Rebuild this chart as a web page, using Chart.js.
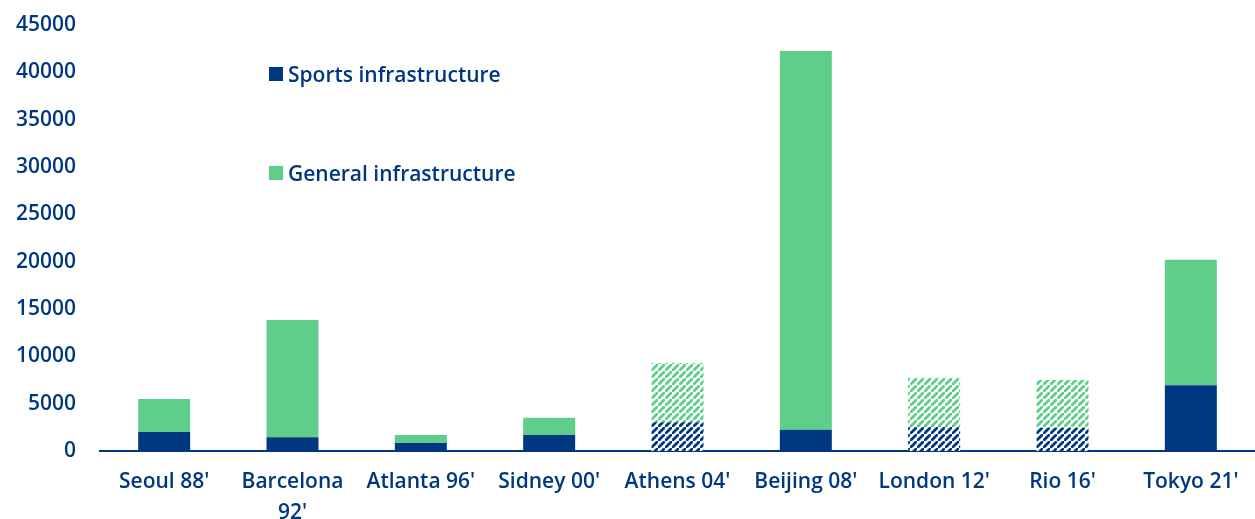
<!DOCTYPE html>
<html>
<head>
<meta charset="utf-8">
<script src="https://cdn.jsdelivr.net/npm/chart.js@4"></script>
<style>
  body { margin: 0; background: #fff; }
  #wrap { position: relative; width: 1255px; height: 519px; overflow: hidden; }
  .leg { position: absolute; left: 269px; font: 600 21px "Open Sans", sans-serif; color: #003781; display: flex; align-items: center; white-space: nowrap; }
  .leg span { display: inline-block; width: 14px; height: 14px; margin-right: 5px; }
</style>
</head>
<body>
<div id="wrap">
  <canvas id="myChart" width="1255" height="519"></canvas>
  <div class="leg" style="top:60px"><span style="background:#003781"></span>Sports infrastructure</div>
  <div class="leg" style="top:159px"><span style="background:#5ECE8A"></span>General infrastructure</div>
</div>
<script>
const labels = ["Seoul 88'", ["Barcelona", "92'"], "Atlanta 96'", "Sidney 00'", "Athens 04'", "Beijing 08'", "London 12'", "Rio 16'", "Tokyo 21'"];
const sportsVals = [2000, 1450, 850, 1700, 3050, 2250, 2600, 2450, 6950];
const generalVals = [3500, 12400, 850, 1800, 6250, 40000, 5150, 5050, 13250];
const hatched = [false, false, false, false, true, false, true, true, false];

const BLUE = "#003781";
const GREEN = "#5ECE8A";

function makeHatch(color) {
  const s = 7;
  const c = document.createElement("canvas");
  c.width = s;
  c.height = s;
  const ctx = c.getContext("2d");
  ctx.fillStyle = "#fff";
  ctx.fillRect(0, 0, s, s);
  ctx.strokeStyle = color;
  ctx.lineWidth = 2.8;
  ctx.beginPath();
  ctx.moveTo(-1, s + 1); ctx.lineTo(s + 1, -1);
  ctx.moveTo(-s - 1, 1); ctx.lineTo(1, -s - 1);
  ctx.moveTo(s - 1, 2 * s + 1); ctx.lineTo(2 * s + 1, s - 1);
  ctx.stroke();
  return ctx.createPattern(c, "repeat");
}

const sportsColors = hatched.map(h => h ? makeHatch(BLUE) : BLUE);
const generalColors = hatched.map(h => h ? makeHatch(GREEN) : GREEN);

const FONT = { family: "'Open Sans', sans-serif", size: 21, weight: "600", lineHeight: 1.45 };

new Chart(document.getElementById("myChart"), {
  type: "bar",
  data: {
    labels: labels,
    datasets: [{
      label: "Sports infrastructure",
      data: sportsVals,
      backgroundColor: sportsColors,
      categoryPercentage: 1,
      barPercentage: 0.405
    }, {
      label: "General infrastructure",
      data: generalVals,
      backgroundColor: generalColors,
      categoryPercentage: 1,
      barPercentage: 0.405
    }]
  },
  options: {
    responsive: false,
    animation: false,
    layout: { padding: 0 },
    plugins: {
      legend: { display: false },
      tooltip: { enabled: false }
    },
    scales: {
      x: {
        stacked: true,
        grid: { display: false, drawTicks: false },
        border: { display: true, color: BLUE, width: 2 },
        ticks: { color: BLUE, font: FONT, padding: 16, maxRotation: 0, autoSkip: false },
        afterFit: function(scale) { scale.height = 68; }
      },
      y: {
        stacked: true,
        min: 0,
        max: 45000,
        grid: { display: false, drawTicks: false },
        border: { display: false },
        ticks: {
          color: BLUE,
          font: FONT,
          stepSize: 5000,
          padding: 24,
          callback: function(v) { return String(v); }
        },
        afterFit: function(scale) {
          scale.width = 100;
          scale.paddingTop = 25;
          scale.paddingBottom = 0;
        }
      }
    }
  }
});
</script>
</body>
</html>
